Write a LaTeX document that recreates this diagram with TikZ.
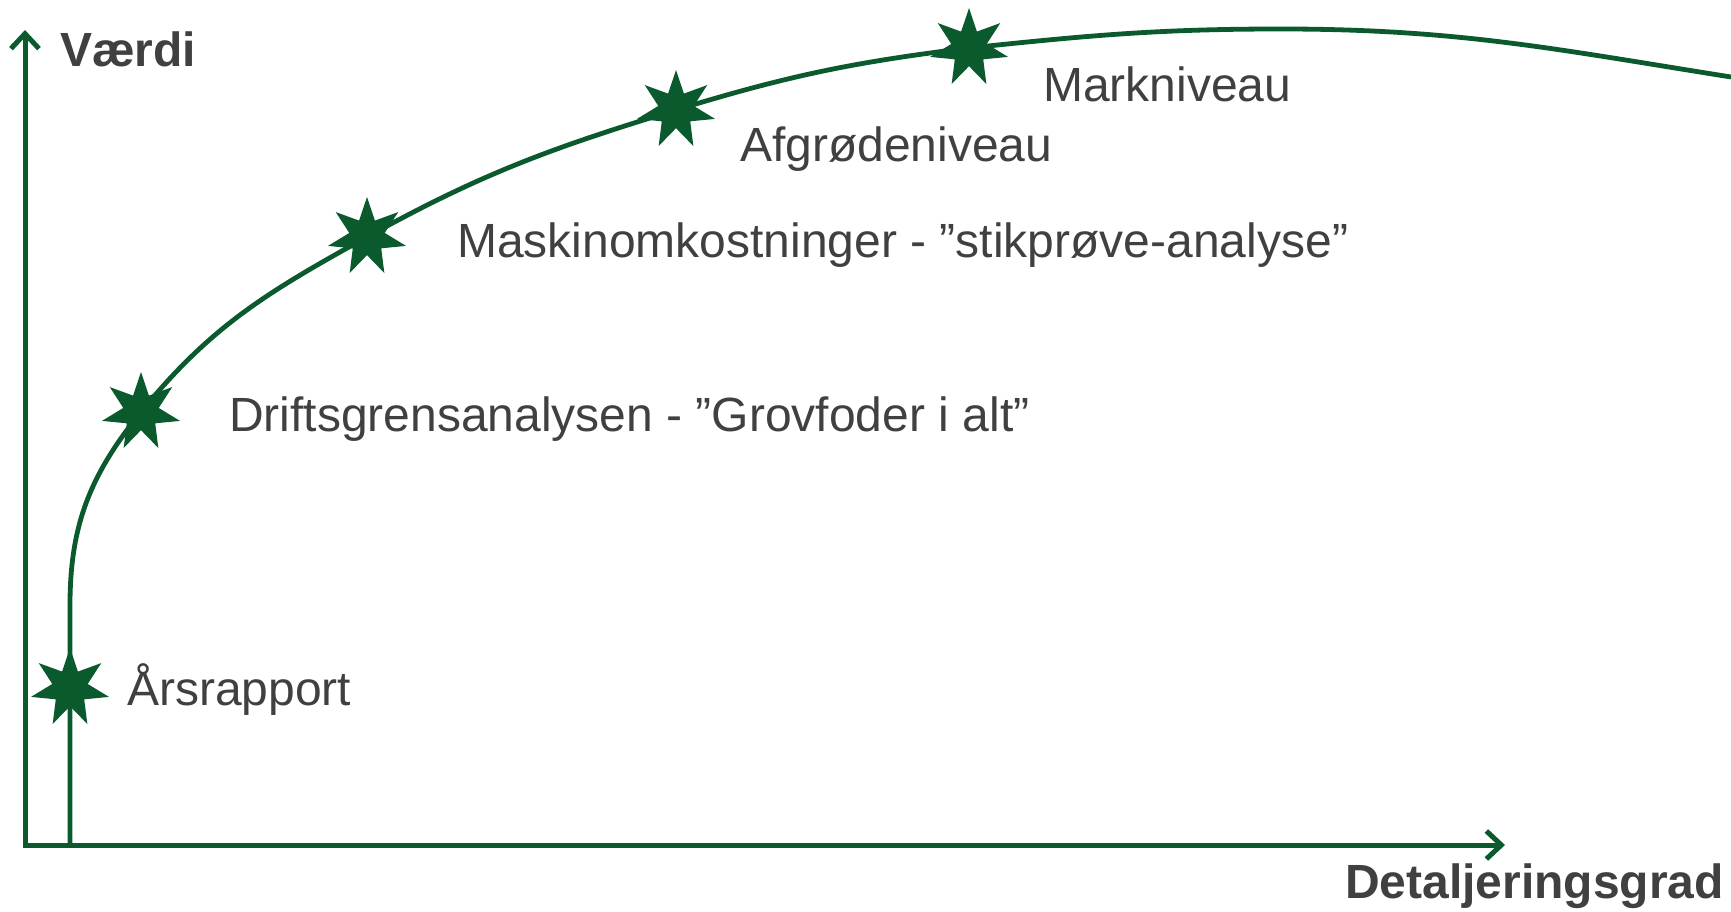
\documentclass[tikz,border=0pt]{standalone}
\usepackage{fontspec}
\setmainfont{Liberation Sans}
\usetikzlibrary{shapes.geometric,arrows.meta}
\definecolor{dgreen}{RGB}{11,90,46}
\definecolor{tgray}{RGB}{64,64,64}
\tikzset{
  starnode/.style={star, star points=7, star point ratio=2.2, minimum size=80pt, inner sep=0pt, fill=dgreen, draw=none},
  lbl/.style={anchor=base west, inner sep=0pt, text=tgray, font=\fontsize{48}{57}\selectfont},
  axlbl/.style={anchor=base west, inner sep=0pt, text=tgray, font=\fontsize{48}{57}\selectfont\bfseries},
  axis/.style={line width=5pt, draw=dgreen},
  curveline/.style={line width=4.8pt, draw=dgreen},
}
\begin{document}
\begin{tikzpicture}[x=1pt,y=1pt]
\useasboundingbox (0,0) rectangle (1731,911);
% axes
\coordinate (org) at (25,66);
\coordinate (ytip) at (25,881);
\coordinate (xtip) at (1505,66);
\draw[axis, {Straight Barb[length=15pt,width=28pt]}-{Straight Barb[length=15pt,width=28pt]}] (ytip) -- (org) -- (xtip);
% curve
\coordinate (c0) at (70,66);
\coordinate (c1) at (70,306);
\coordinate (p1) at (141,499);
\coordinate (p2) at (367,674);
\coordinate (p3) at (676,801);
\coordinate (p4) at (969,863);
\coordinate (p5) at (1281,882);
\coordinate (p6) at (1731,834);
\draw[curveline] (c0) -- (c1) to[out=90,in=231] (p1) to[out=51,in=209] (p2) to[out=29,in=197] (p3) to[out=17,in=187] (p4) to[out=6,in=180] (p5) to[out=0,in=171] (p6);
% stars
\node[starnode] (s0) at (70,223) {};
\node[starnode] (s1) at (p1) {};
\node[starnode] (s2) at (p2) {};
\node[starnode] (s3) at (p3) {};
\node[starnode] (s4) at (p4) {};
% labels
\node[lbl] (l0) at (127,206) {Årsrapport};
\node[lbl] (l1) at (229,479) {Driftsgrensanalysen - ”Grovfoder i alt”};
\node[lbl] (l2) at (457,653) {Maskinomkostninger - ”stikprøve-analyse”};
\node[lbl] (l3) at (740,749) {Afgrødeniveau};
\node[lbl] (l4) at (1043,809) {Markniveau};
\node[axlbl] (ly) at (60,844) {Værdi};
\node[axlbl] (lx) at (1345,13) {Detaljeringsgrad};
\end{tikzpicture}
\end{document}
